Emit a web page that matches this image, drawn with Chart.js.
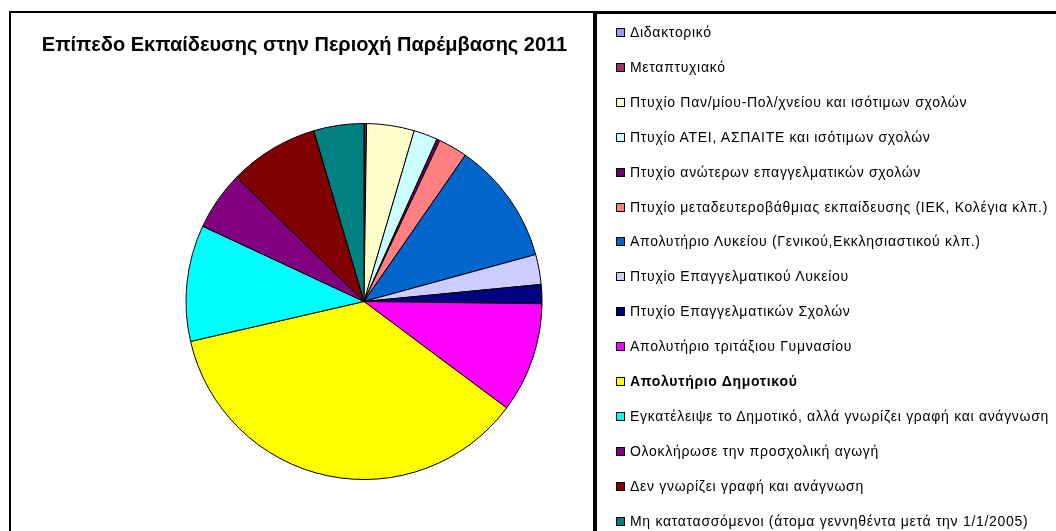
<!DOCTYPE html>
<html>
<head>
<meta charset="utf-8">
<script src="https://cdn.jsdelivr.net/npm/chart.js@4.4.0/dist/chart.umd.min.js"></script>
<style>
  body { margin: 0; background: #fff; width: 1056px; height: 531px; overflow: hidden; position: relative; font-family: "Liberation Sans", Arial, sans-serif; }
  #leftBox { position: absolute; left: 9px; top: 11px; width: 586px; height: 540px; border: 2px solid #000; box-sizing: border-box; }
  #title { position: absolute; left: 4px; top: 33px; width: 601px; text-align: center; font-weight: bold; font-size: 20px; line-height: 23px; color: #000; }
  #chartWrap { position: absolute; left: 10px; top: 12px; width: 586px; height: 519px; }
  #legendBox { position: absolute; left: 595px; top: 11px; width: 500px; height: 540px; border: 2px solid #000; border-top-width: 3px; box-sizing: border-box; background: #fff; }
  .item { position: absolute; left: 19px; font-size: 14px; letter-spacing: 0.7px; color: #000; white-space: nowrap; line-height: 15px; }
  .item .sw { display: inline-block; width: 7px; height: 7px; border: 1px solid #000; margin-right: 5px; vertical-align: 0px; }
</style>
</head>
<body>
<div id="chartWrap"><canvas id="pie"></canvas></div>
<div id="leftBox"></div>
<div id="title">Επίπεδο Εκπαίδευσης στην Περιοχή Παρέμβασης 2011</div>
<div id="legendBox"></div>
<script>
const categories = [
  'Διδακτορικό',
  'Μεταπτυχιακό',
  'Πτυχίο Παν/μίου-Πολ/χνείου και ισότιμων σχολών',
  'Πτυχίο ΑΤΕΙ, ΑΣΠΑΙΤΕ και ισότιμων σχολών',
  'Πτυχίο ανώτερων επαγγελματικών σχολών',
  'Πτυχίο μεταδευτεροβάθμιας εκπαίδευσης (ΙΕΚ, Κολέγια κλπ.)',
  'Απολυτήριο Λυκείου (Γενικού,Εκκλησιαστικού κλπ.)',
  'Πτυχίο Επαγγελματικού Λυκείου',
  'Πτυχίο Επαγγελματικών Σχολών',
  'Απολυτήριο τριτάξιου Γυμνασίου',
  'Απολυτήριο Δημοτικού',
  'Εγκατέλειψε το Δημοτικό, αλλά γνωρίζει γραφή και ανάγνωση',
  'Ολοκλήρωσε την προσχολική αγωγή',
  'Δεν γνωρίζει γραφή και ανάγνωση',
  'Μη κατατασσόμενοι (άτομα γεννηθέντα μετά την 1/1/2005)'
];
// share of population, %
const shares = [0.08, 0.15, 4.32, 2.17, 0.29, 2.63, 11.11, 2.72, 1.73, 10.0, 36.2, 10.55, 5.35, 8.15, 4.55];
const colors = ['#9999FF', '#993366', '#FFFFCC', '#CCFFFF', '#660066', '#FF8080', '#0066CC', '#CCCCFF',
  '#000080', '#FF00FF', '#FFFF00', '#00FFFF', '#800080', '#800000', '#008080'];
const boldItem = 'Απολυτήριο Δημοτικού';

// legend on the right
const legendBox = document.getElementById('legendBox');
categories.forEach((cat, i) => {
  const div = document.createElement('div');
  div.className = 'item';
  div.style.top = (11 + i * 34.9) + 'px';
  if (cat === boldItem) div.style.fontWeight = 'bold';
  const sw = document.createElement('span');
  sw.className = 'sw';
  sw.style.background = colors[i];
  div.appendChild(sw);
  div.appendChild(document.createTextNode(cat));
  legendBox.appendChild(div);
});

const ctx = document.getElementById('pie').getContext('2d');
new Chart(ctx, {
  type: 'pie',
  data: {
    labels: categories,
    datasets: [{
      data: shares,
      backgroundColor: colors,
      borderColor: '#000',
      borderWidth: 1
    }]
  },
  options: {
    responsive: true,
    maintainAspectRatio: false,
    animation: false,
    layout: { padding: { left: 175, top: 111, right: 53, bottom: 51 } },
    plugins: {
      legend: { display: false },
      tooltip: { enabled: true }
    }
  }
});
</script>
</body>
</html>
